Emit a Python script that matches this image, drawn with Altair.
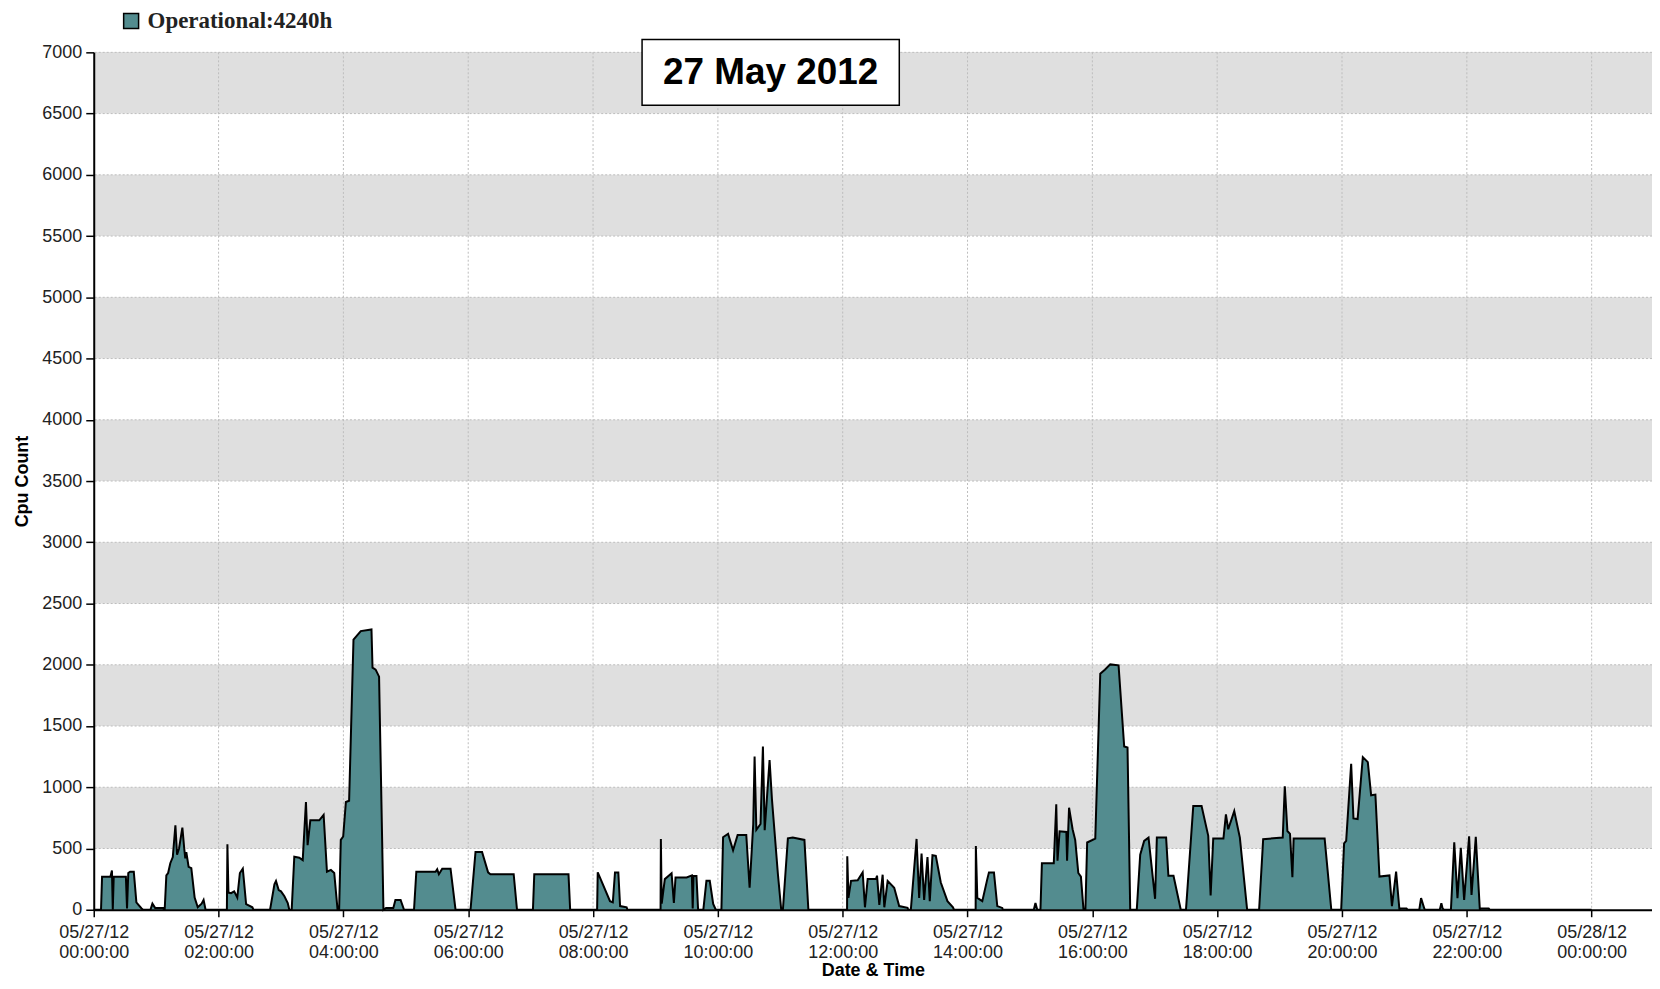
import altair as alt
import pandas as pd

# ---- data (minutes after midnight, 27 May 2012) ----
minutes = [
    0, 7, 8, 16, 17.5, 18.3, 19.2, 30.9, 32, 33.2, 35, 38.5, 41, 43, 46, 47.5,
    54.5, 56.4, 59, 66.6, 67.5,
    68.2, 69.8, 71.5, 73.6, 76, 78.5, 80.1, 82, 85.2, 87, 88, 89, 91.2, 93.8, 97, 100, 103.7, 105.6, 107.5,
    128, 128.5, 129.5, 132, 135, 138, 140.5, 143.3, 146.5, 152.5, 153.5,
    169.5, 173.7, 175.2, 177.8, 180, 183.3, 186.5, 188,
    190.3, 192.8, 197.6, 200.9, 204, 205.6, 208.2, 216.8, 221, 224.2, 228, 231.2, 234.4,
    235.9, 237.5, 239.8, 242.4, 245.5, 249.7, 256.7, 267, 268, 271, 274.3, 278.5,
    281, 288, 290, 295, 298.3,
    307.9, 310.1, 328.6, 330.2, 331.8, 335, 343, 347.8,
    362.2, 367, 373.3, 379.1, 381.3, 403.7, 406.9,
    422.2, 423.5, 456.4, 458,
    483.9, 484.5, 487.7, 496.3, 499, 501.1, 504.3, 506, 512.3, 513,
    544.9, 545.2, 546, 549, 555.5, 557.7, 559.3, 570, 575, 575.8, 576.6, 579.4, 581,
    586, 589, 592.2, 595.5, 598,
    603.4, 605, 609.8, 614.6, 619, 627.3, 630.5, 634, 635.3, 637, 641, 643.3, 645, 649.7, 652, 657.7, 660.9,
    662.5, 667.3, 672, 683.2, 687,
    724.2, 724.4, 725.5, 728, 734.4, 739.2, 741.4, 744, 752, 753, 755.2, 758.4, 760, 763.2, 769.5, 774.3, 782.3, 783,
    785.5, 791, 793.5, 795.8, 798.3, 801.5, 803.7, 806.3, 809.5, 814.3, 820.7, 826, 827,
    847.8, 848, 849.4, 854.2, 859, 860.6, 865.4, 868.6, 873.4, 874,
    903.7, 905.3, 907, 910.1, 911.5, 922.9, 925.3, 926.5, 928.5, 935, 935.7, 937.6, 941, 943.5, 946.5, 949, 951.5,
    953.3, 955, 962.8, 967.6, 972, 977.2, 985.2, 990.6, 993.8, 996.4,
    1002.7, 1006, 1009.8, 1014, 1020.3, 1022, 1030.9, 1033.1, 1038, 1045,
    1050, 1057, 1065, 1071.4, 1073.7, 1076.2, 1086, 1088.4, 1090.6, 1096.4, 1101.8, 1108.8,
    1120.3, 1124.2, 1143, 1145, 1147.5, 1150, 1152.3, 1153.5, 1183.3, 1189.7,
    1199.2, 1202, 1204, 1208.8, 1211, 1215, 1220, 1224.8, 1228, 1232.1, 1236, 1245.6, 1248, 1252, 1255.2,
    1255.5, 1262, 1263,
    1274.3, 1276, 1279.1, 1280,
    1294, 1295.5, 1296.7, 1298,
    1304.7, 1307.9, 1311, 1314.2, 1317.4, 1322.2, 1324.5, 1328.6, 1332.5, 1333, 1341, 1342,
    1440,
]
cpu = [
    0, 0, 270, 270, 320, 0, 270, 270, 10, 300, 310, 310, 60, 40, 10, 0,
    0, 50, 15, 15, 0,
    0, 280, 300, 380, 430, 690, 450, 500, 670, 500, 420, 470, 350, 340, 100, 20, 50, 80, 0,
    0, 535, 140, 135, 150, 100, 300, 335, 45, 20, 0,
    0, 208, 235, 160, 150, 110, 55, 0,
    0, 433, 425, 405, 880, 527, 730, 730, 775, 310, 325, 300, 0,
    0, 570, 598, 880, 890, 2205, 2275, 2288, 1976, 1960, 1903, 0,
    15, 15, 80, 80, 0,
    0, 310, 310, 330, 290, 335, 335, 0,
    0, 472, 472, 305, 290, 290, 0,
    0, 290, 290, 0,
    0, 305, 242, 70, 60, 305, 305, 30, 20, 0,
    0, 578, 50, 250, 297, 55, 264, 264, 280, 10, 275, 275, 0,
    0, 236, 236, 47, 0,
    0, 592, 620, 486, 611, 611, 180, 700, 1250, 653, 700, 1333, 650, 1222, 900, 292, 0,
    0, 583, 590, 570, 0,
    0, 436, 97, 236, 240, 305, 20, 250, 250, 278, 40, 286, 20, 236, 180, 30, 15, 0,
    0, 578, 97, 458, 80, 430, 70, 445, 440, 222, 70, 20, 0,
    0, 520, 97, 70, 250, 305, 305, 30, 15, 0,
    0, 55, 0, 0, 380, 380, 861, 400, 640, 635, 400, 833, 657, 570, 300, 270, 0,
    0, 549, 581, 1927, 1960, 2003, 1995, 1333, 1325, 0,
    0, 450, 562, 589, 89, 589, 589, 278, 278, 0,
    0, 846, 846, 603, 116, 581, 581, 778, 657, 805, 589, 0,
    0, 576, 590, 1008, 643, 620, 265, 581, 581, 0,
    0, 541, 562, 1191, 745, 740, 1246, 1205, 934, 940, 271, 280, 30, 311, 0,
    10, 10, 0,
    0, 95, 10, 0,
    0, 54, 10, 0,
    0, 550, 95, 506, 80, 600, 120, 595, 0, 10, 10, 0,
    0,
]
series_name = "Operational:4240h"
title_text = "27 May 2012"
x_ticks = list(range(0, 1441, 120))
y_ticks = list(range(0, 7001, 500))
band_lo = [500, 1500, 2500, 3500, 4500, 5500, 6500]
band_hi = [1000, 2000, 3000, 4000, 5000, 6000, 7000]

W, H = 1563, 860
X_MAX = 1498
FILL = "#538C8F"
SANS = "Liberation Sans"

df = pd.DataFrame({"minute": minutes, "cpu": cpu, "series": series_name})
bands = pd.DataFrame({"lo": band_lo, "hi": band_hi})
xgrid = pd.DataFrame({"m": x_ticks[1:]})
ygrid = pd.DataFrame({"v": y_ticks[1:]})
tdf = pd.DataFrame({"label": [title_text]})

xscale = alt.Scale(domain=[0, X_MAX], nice=False, zero=False)
yscale = alt.Scale(domain=[0, 7000], nice=False)

xaxis = alt.Axis(
    values=x_ticks,
    labelExpr="[datum.value < 1440 ? '05/27/12' : '05/28/12', "
              "(datum.value % 1440 < 600 ? '0' : '') + floor((datum.value % 1440) / 60) + ':00:00']",
    title="Date & Time", grid=False, zindex=1,
    domainColor="black", domainWidth=2, tickColor="black", tickWidth=1.5, tickSize=7,
    labelFont=SANS, labelFontSize=18, labelColor="#222", labelLineHeight=20,
    labelPadding=7, labelFlush=False, labelOverlap=False,
    titleFont=SANS, titleFontSize=18, titleFontWeight="bold", titleColor="black", titlePadding=0,
)
yaxis = alt.Axis(
    values=y_ticks, format="d", title="Cpu Count", grid=False, zindex=1,
    domainColor="black", domainWidth=2, tickColor="black", tickWidth=1.5, tickSize=8,
    labelFont=SANS, labelFontSize=18, labelColor="#222", labelPadding=4,
    labelFlush=False, labelOverlap=False,
    titleFont=SANS, titleFontSize=18, titleFontWeight="bold", titleColor="black", titlePadding=10,
)
legend = alt.Legend(
    title=None, orient="none", legendX=26, legendY=-43,
    symbolType="square", symbolSize=225, symbolStrokeColor="black", symbolStrokeWidth=1.5,
    symbolOpacity=1, labelLimit=0,
    labelFont="Liberation Serif", labelFontSize=23, labelFontWeight="bold", labelColor="#222",
    labelOffset=5, padding=0,
)

band_layer = alt.Chart(bands).mark_rect(color="#DFDFDF").encode(
    x=alt.value(0), x2=alt.value("width"),
    y=alt.Y("lo:Q", scale=yscale, axis=yaxis), y2="hi:Q",
)
vgrid = alt.Chart(xgrid).mark_rule(color="#BDBDBD", strokeDash=[2, 2], strokeWidth=1).encode(
    x=alt.X("m:Q", scale=xscale, axis=xaxis)
)
hgrid = alt.Chart(ygrid).mark_rule(color="#BDBDBD", strokeDash=[2, 2], strokeWidth=1).encode(
    y=alt.Y("v:Q", scale=yscale, axis=yaxis)
)
area = alt.Chart(df).mark_area(interpolate="linear", opacity=1).encode(
    x=alt.X("minute:Q", scale=xscale, axis=xaxis),
    y=alt.Y("cpu:Q", scale=yscale, axis=yaxis),
    color=alt.Color("series:N", scale=alt.Scale(range=[FILL]), legend=legend),
)
line = alt.Chart(df).mark_line(color="black", strokeWidth=2, interpolate="linear").encode(
    x=alt.X("minute:Q", scale=xscale, axis=xaxis),
    y=alt.Y("cpu:Q", scale=yscale, axis=yaxis),
)
box = alt.Chart(tdf).mark_rect(fill="white", stroke="black", strokeWidth=1.5).encode(
    x=alt.value(550), x2=alt.value(808), y=alt.value(-13), y2=alt.value(53),
)
txt = alt.Chart(tdf).mark_text(
    font=SANS, fontSize=37, fontWeight="bold", color="black", align="center", baseline="middle"
).encode(x=alt.value(679), y=alt.value(21), text="label:N")

chart = alt.layer(band_layer, vgrid, hgrid, area, line, box, txt).properties(
    width=W, height=H,
    autosize=alt.AutoSizeParams(type="none"),
    padding={"left": 86, "top": 43, "right": 0, "bottom": 70},
).configure_view(stroke=None).configure(background="white")

chart.save("out.html", embed_options={"renderer": "svg", "actions": False})
